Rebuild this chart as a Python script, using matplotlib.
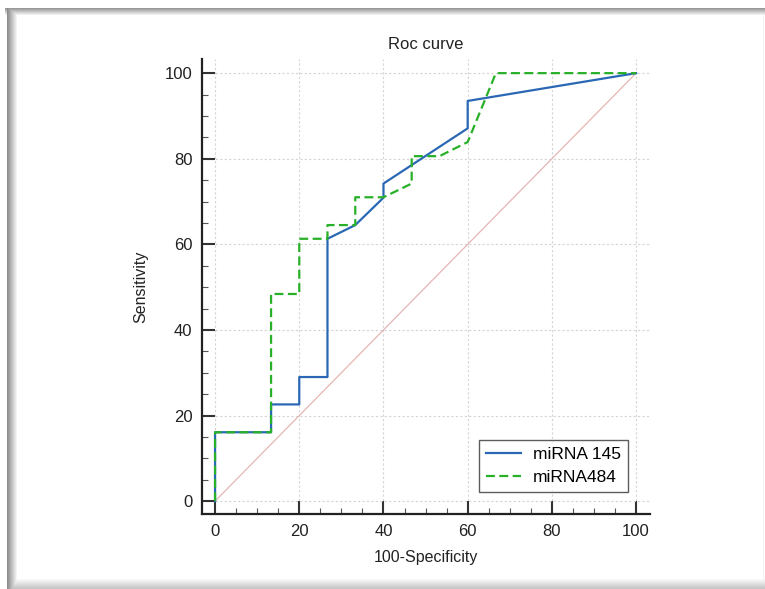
import numpy as np
import matplotlib
matplotlib.use("Agg")
import matplotlib.pyplot as plt
from matplotlib.ticker import MultipleLocator

plt.rcParams['font.family'] = ['Liberation Sans', 'DejaVu Sans']

# ROC data (100-Specificity, Sensitivity)
mirna145_x = [0, 0, 13.3, 13.3, 20, 20, 26.7, 26.7, 33.3, 40, 40, 60, 60, 100]
mirna145_y = [0, 16.1, 16.1, 22.6, 22.6, 29.0, 29.0, 61.3, 64.5, 70.9, 74.2, 87.1, 93.5, 100]

mirna484_x = [0, 0, 13.3, 13.3, 20, 20, 26.7, 26.7, 33.3, 33.3, 40, 46.7, 46.7, 53.3, 60, 66.7, 100]
mirna484_y = [0, 16.1, 16.1, 48.4, 48.4, 61.3, 61.3, 64.5, 64.5, 71.0, 71.0, 74.2, 80.6, 80.6, 83.9, 100, 100]

ref_x = [0, 100]
ref_y = [0, 100]

labels = ["miRNA 145", "miRNA484"]
title = "Roc curve"
xlabel = "100-Specificity"
ylabel = "Sensitivity"

W, H = 765, 589
fig = plt.figure(figsize=(W / 100, H / 100), dpi=100)

# screenshot-like frame shading
img = np.ones((H, W, 3))
for i in range(7):
    v = 0.6 + 0.4 * i / 7
    img[8 + i, 5:, :] = np.minimum(img[8 + i, 5:, :], v)
for i in range(10):
    v = 0.55 + 0.45 * i / 10
    img[8:, 7 + i, :] = np.minimum(img[8:, 7 + i, :], v)
for i in range(11):
    v = 1.0 - 0.25 * i / 11
    img[578 + i, 7:, :] = np.minimum(img[578 + i, 7:, :], v)
img[8:, 763, :] = np.minimum(img[8:, 763, :], 0.95)
fig.figimage(img, xo=0, yo=0, origin='upper', zorder=-10)

ax = fig.add_axes([202 / W, 1 - 514 / H, (650 - 202) / W, (514 - 59) / H])
ax.patch.set_alpha(0)

ax.plot(ref_x, ref_y, color='#e6b5b5', lw=0.9, zorder=2)
ax.plot(mirna145_x, mirna145_y, color='#2a68b5', lw=1.6, label=labels[0], zorder=3)
ax.plot(mirna484_x, mirna484_y, color='#28b028', lw=1.6, ls=(0, (4, 2)), label=labels[1], zorder=4)

ax.set_xlim(-3.1, 103.3)
ax.set_ylim(-3.0, 103.3)
ax.xaxis.set_major_locator(MultipleLocator(20))
ax.yaxis.set_major_locator(MultipleLocator(20))
ax.xaxis.set_minor_locator(MultipleLocator(5))
ax.yaxis.set_minor_locator(MultipleLocator(5))

ax.grid(True, which='major', color='#d4d4d4', lw=0.8, ls=(0, (2, 2)))
for s in ['top', 'right']:
    ax.spines[s].set_visible(False)
for s in ['left', 'bottom']:
    ax.spines[s].set_linewidth(1.6)
    ax.spines[s].set_color('#222222')

ax.tick_params(which='major', direction='in', length=9.5, width=1.5, color='#333333',
               labelsize=12, pad=7, labelcolor='#222222')
ax.tick_params(which='minor', direction='in', length=4.2, width=0.8, color='#555555')

ax.set_title(title, fontsize=12, pad=7, color='#222222')
ax.set_xlabel(xlabel, fontsize=11.5, color='#222222', labelpad=8)
ax.set_ylabel(ylabel, fontsize=11.5, color='#222222', labelpad=12)

leg = ax.legend(loc='lower right', bbox_to_anchor=(628 / W, 1 - 492 / H), bbox_transform=fig.transFigure,
                borderaxespad=0, fontsize=12.5, frameon=True, fancybox=False, edgecolor='#333333',
                handlelength=2.0, borderpad=0.4, labelspacing=0.45, handletextpad=0.7)
leg.get_frame().set_linewidth(1.0)

fig.savefig("out.png", dpi=100)
